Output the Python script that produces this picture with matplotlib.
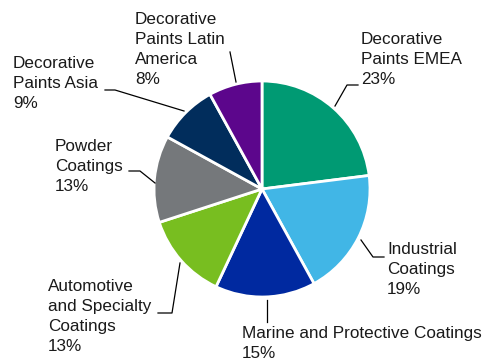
import matplotlib.pyplot as plt

plt.rcParams['font.family'] = ['Liberation Sans', 'DejaVu Sans']

labels = ['Decorative\nPaints EMEA', 'Industrial\nCoatings', 'Marine and Protective Coatings',
          'Automotive\nand Specialty\nCoatings', 'Powder\nCoatings', 'Decorative\nPaints Asia',
          'Decorative\nPaints Latin\nAmerica']
shares = [23, 19, 15, 13, 13, 9, 8]
colors = ['#009a73', '#41b6e6', '#0029a0', '#78be20', '#75787b', '#012d5c', '#5c068c']

W, H = 485, 360
fig = plt.figure(figsize=(W / 100, H / 100), dpi=100)
ax = fig.add_axes([0, 0, 1, 1])

cx, cy, r = 262, H - 189, 108
ax.pie(shares, colors=colors, startangle=90, counterclock=False, center=(cx, cy), radius=r,
       wedgeprops=dict(edgecolor='white', linewidth=2), frame=True)
ax.set_xlim(0, W)
ax.set_ylim(0, H)
ax.set_aspect('equal')
ax.axis('off')

# label top-left corners (pixels) and leader lines (pixels)
text_pos = [(361, 32), (387, 242), (242, 326), (48, 279), (55, 139), (13, 56), (135, 12)]
leaders = [
    [(335, 106), (347, 85), (358, 85)],
    [(361, 240), (373, 257), (384, 257)],
    [(267, 300), (267, 322)],
    [(180, 263), (172, 313), (158, 313)],
    [(155, 183), (140, 171), (129, 171)],
    [(184, 111), (115, 90), (105, 90)],
    [(236, 82), (230, 52)],
]

for lab, s, (tx, ty), pts in zip(labels, shares, text_pos, leaders):
    ax.text(tx, H - ty, f'{lab}\n{s}%', ha='left', va='top', fontsize=12.3,
            color='#1a1a1a', linespacing=1.42)
    xs = [p[0] for p in pts]
    ys = [H - p[1] for p in pts]
    ax.plot(xs, ys, color='black', linewidth=0.9)

fig.savefig('out.png', dpi=100)
